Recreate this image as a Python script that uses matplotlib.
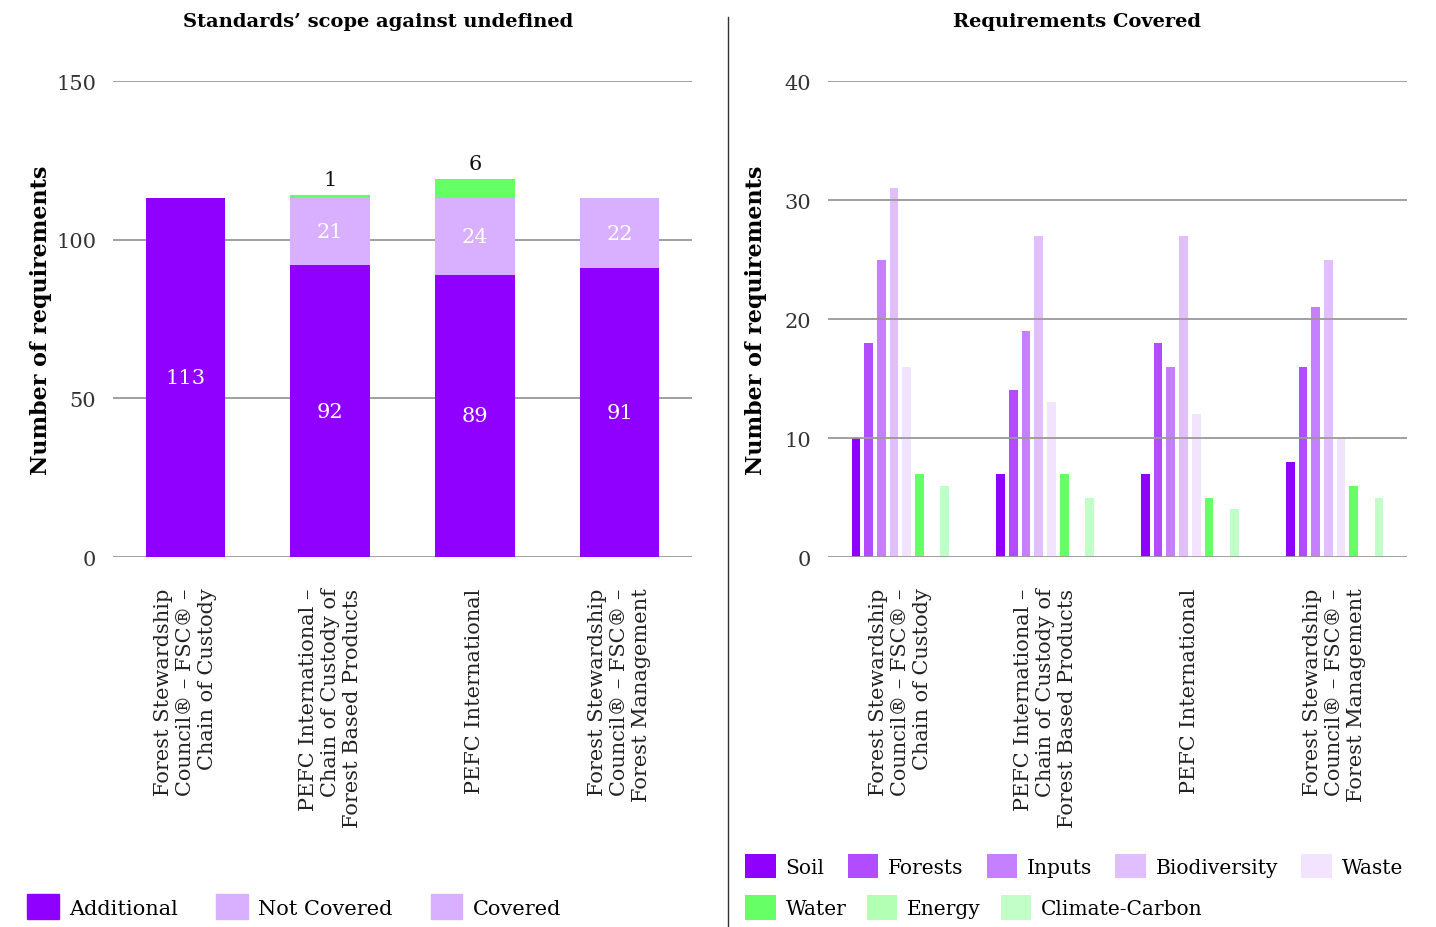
import matplotlib.pyplot as plt
from matplotlib.lines import Line2D
from matplotlib.patches import Patch
import numpy as np

plt.rcParams['font.family'] = ['DejaVu Serif']

standards = ['Forest Stewardship\nCouncil® – FSC® –\nChain of Custody',
             'PEFC International –\nChain of Custody of\nForest Based Products',
             'PEFC International',
             'Forest Stewardship\nCouncil® – FSC® –\nForest Management']

# left chart, stacked
additional = [113, 92, 89, 91]
not_covered = [0, 21, 24, 22]
covered = [0, 1, 6, 0]

# right chart, grouped
topics = ['Soil', 'Forests', 'Inputs', 'Biodiversity', 'Waste',
          'Water', 'Energy', 'Climate-Carbon']
topic_values = {
    'Soil': [10, 7, 7, 8],
    'Forests': [18, 14, 18, 16],
    'Inputs': [25, 19, 16, 21],
    'Biodiversity': [31, 27, 27, 25],
    'Waste': [16, 13, 12, 10],
    'Water': [7, 7, 5, 6],
    'Energy': [0, 0, 0, 0],
    'Climate-Carbon': [6, 5, 4, 5],
}
topic_colors = ['#9000ff', '#b24dff', '#c580ff', '#e1bfff', '#f2e4ff',
                '#66ff66', '#b3ffb3', '#c2ffc8']

fig = plt.figure(figsize=(14.36, 9.28), dpi=100)
ax1 = fig.add_axes([0.0787, 0.3987, 0.4032, 0.5129])
ax2 = fig.add_axes([0.5766, 0.3987, 0.4032, 0.5129])

x = np.arange(len(standards))
w = 0.55
ax1.bar(x, additional, w, color='#9000ff', zorder=2)
ax1.bar(x, not_covered, w, bottom=additional, color='#d8b0ff', zorder=2)
bottom3 = np.array(additional) + np.array(not_covered)
ax1.bar(x, covered, w, bottom=bottom3, color='#66ff66', zorder=2)

for i in range(len(standards)):
    ax1.text(x[i], additional[i] / 2, str(additional[i]), ha='center',
             va='center', color='white', fontsize=15)
    if not_covered[i]:
        ax1.text(x[i], additional[i] + not_covered[i] / 2, str(not_covered[i]),
                 ha='center', va='center', color='white', fontsize=15)
    if covered[i]:
        ax1.text(x[i], bottom3[i] + covered[i] + 2, str(covered[i]),
                 ha='center', va='bottom', color='#111111', fontsize=15)

ax1.set_ylim(0, 150)
ax1.set_yticks([0, 50, 100, 150])
ax1.set_xlim(-0.5, 3.5)

# right chart bars
step = 0.0877
bw = 0.06
for k, t in enumerate(topics):
    offs = (k - 3.5) * step
    ax2.bar(x + offs, topic_values[t], bw, color=topic_colors[k], label=t,
            zorder=1)
ax2.set_ylim(0, 40)
ax2.set_yticks([0, 10, 20, 30, 40])
ax2.set_xlim(-0.5, 3.5)

for ax in (ax1, ax2):
    for s in ax.spines.values():
        s.set_visible(False)
    ax.set_xticks(x)
    ax.set_xticklabels(standards, rotation=90, ha='center', va='top',
                       multialignment='right', fontsize=15, color='#222222')
    ax.tick_params(axis='x', length=0, pad=22)
    ax.tick_params(axis='y', length=0, pad=12, labelsize=15,
                   labelcolor='#333333')
    ax.set_ylabel('Number of requirements', fontsize=16, fontweight='bold')
    ax.yaxis.set_label_coords(-0.106, 0.5)

for v in ax1.get_yticks():
    ax1.axhline(v, color='#999999', lw=1.3, zorder=1)
for v in ax2.get_yticks():
    ax2.axhline(v, color='#999999', lw=1.3, zorder=3)

fig.text(378 / 1436, 1 - 22 / 928, 'Standards’ scope against undefined',
         ha='center', va='center', fontsize=14, fontweight='bold')
fig.text(1077 / 1436, 1 - 22 / 928, 'Requirements Covered',
         ha='center', va='center', fontsize=14, fontweight='bold')

fig.add_artist(Line2D([728 / 1436, 728 / 1436], [0, 1 - 18 / 928],
                      color='#333333', lw=1))

# left legend (Covered shown with the same swatch as Not Covered)
h_left = [Patch(color='#9000ff'), Patch(color='#d8b0ff'), Patch(color='#d8b0ff')]
fig.legend(h_left, ['Additional', 'Not Covered', 'Covered'], ncol=3,
           loc='lower left', bbox_to_anchor=(0.006, -0.012), frameon=False,
           fontsize=15, handlelength=1.5, handleheight=1.5,
           columnspacing=1.85, handletextpad=0.5)

h_right, l_right = ax2.get_legend_handles_labels()
fig.legend(h_right[:5], l_right[:5], ncol=5, loc='lower left',
           bbox_to_anchor=(0.5065, 0.033), frameon=False, fontsize=14.5,
           handlelength=1.5, handleheight=1.5, columnspacing=1.15,
           handletextpad=0.5)
fig.legend(h_right[5:], l_right[5:], ncol=3, loc='lower left',
           bbox_to_anchor=(0.5065, -0.012), frameon=False, fontsize=14.5,
           handlelength=1.5, handleheight=1.5, columnspacing=1.0,
           handletextpad=0.5)

fig.savefig('out.png', dpi=100)
